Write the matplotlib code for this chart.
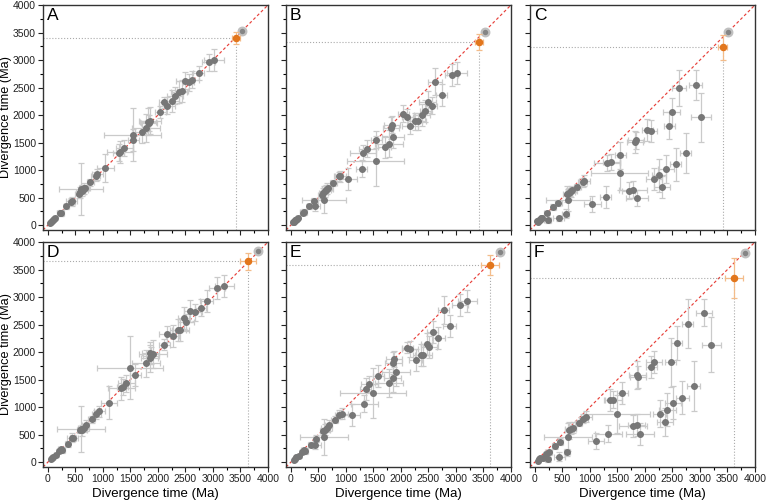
import matplotlib
matplotlib.use("Agg")
import matplotlib.pyplot as plt
from matplotlib.ticker import MultipleLocator

plt.rcParams['font.family'] = ['Liberation Sans', 'DejaVu Sans']

# Data -----------------------------------------------------------
x_top = [30, 50, 70, 95, 110, 120, 210, 230, 335, 425, 430, 560, 590, 600, 620, 640, 660, 680,
         770, 865, 900, 1045, 1290, 1310, 1390, 1540, 1550, 1705, 1785, 1820, 1840, 1855,
         2045, 2110, 2160, 2255, 2310, 2385, 2440, 2485, 2555, 2620, 2740, 2920, 3020]
xerr_top = [15, 20, 20, 20, 25, 25, 40, 60, 50, 60, 100, 60, 80, 400, 60, 80, 100, 60,
            60, 80, 100, 150, 100, 230, 150, 520, 100, 120, 250, 150, 150, 200,
            100, 100, 150, 120, 150, 150, 100, 150, 100, 120, 100, 120, 180]

yA = [36, 55, 73, 95, 115, 121, 210, 218, 339, 424, 430, 560, 594, 661, 620, 640, 665, 673,
      776, 885, 927, 1036, 1315, 1327, 1400, 1642, 1552, 1691, 1764, 1879, 1855, 1897,
      2055, 2230, 2170, 2261, 2351, 2412, 2442, 2624, 2594, 2642, 2764, 2958, 3006]
yerr_A = [15, 20, 20, 20, 25, 25, 40, 50, 50, 60, 80, 60, 100, 470, 100, 80, 100, 60,
          60, 80, 100, 250, 150, 200, 150, 480, 200, 200, 250, 250, 150, 250,
          100, 100, 150, 200, 150, 200, 200, 150, 150, 150, 120, 150, 200]

yB = [48, 60, 85, 100, 115, 127, 218, 236, 339, 430, 339, 550, 582, 461, 612, 640, 661, 670,
      764, 885, 890, 842, 1024, 1309, 1388, 1164, 1552, 1412, 1479, 1764, 1824, 1594,
      2024, 1958, 1806, 1885, 1885, 2006, 2067, 2230, 2170, 2606, 2370, 2733, 2764]
yerr_B = [15, 20, 20, 20, 25, 25, 40, 50, 50, 60, 80, 60, 100, 250, 100, 80, 100, 60,
          60, 80, 100, 200, 150, 150, 150, 450, 150, 200, 250, 200, 150, 200,
          150, 150, 150, 150, 150, 200, 200, 200, 150, 250, 200, 200, 200]

yC = [67, 60, 85, 100, 127, 130, 218, 85, 327, 400, 121, 206, 564, 448, 582, 600, 612, 640,
      691, 776, 806, 382, 503, 1127, 1145, 945, 1267, 624, 642, 1503, 1539, 491,
      1733, 1703, 836, 903, 691, 1018, 1806, 2055, 1109, 2485, 1309, 2552, 1958]
yerr_C = [15, 20, 20, 20, 25, 25, 40, 50, 50, 60, 50, 80, 150, 200, 100, 80, 100, 60,
          60, 80, 100, 150, 200, 150, 150, 300, 250, 150, 150, 200, 150, 150,
          200, 200, 200, 300, 200, 250, 250, 250, 300, 330, 370, 270, 450]

x_bot = [48, 79, 100, 139, 200, 230, 248, 356, 440, 453, 580, 600, 622, 653, 683, 792, 882, 937,
         1106, 1335, 1360, 1426, 1498, 1589, 1782, 1849, 1861, 1873, 1909, 2115, 2163,
         2266, 2362, 2405, 2465, 2508, 2574, 2677, 2779, 2888, 3075, 3208]
xerr_bot = [15, 20, 20, 25, 30, 40, 60, 50, 100, 60, 60, 440, 80, 100, 60, 60, 80, 100,
            150, 250, 100, 150, 600, 100, 250, 150, 150, 150, 250, 100, 150,
            120, 150, 150, 100, 150, 100, 120, 100, 120, 150, 180]

yD = [49, 73, 100, 122, 200, 230, 213, 328, 440, 438, 580, 600, 578, 620, 669, 778, 869, 924,
      1082, 1337, 1368, 1429, 1714, 1581, 1793, 1884, 1976, 1933, 1964, 2128, 2328,
      2298, 2401, 2401, 2614, 2541, 2754, 2723, 2809, 2930, 3167, 3204]
yerr_D = [15, 20, 20, 25, 30, 40, 50, 50, 80, 60, 60, 410, 100, 80, 100, 60, 80, 100,
          300, 200, 150, 150, 570, 200, 250, 250, 200, 150, 250, 100, 150,
          200, 200, 200, 200, 150, 200, 150, 150, 200, 200, 200]

yE = [30, 61, 85, 103, 180, 220, 201, 316, 316, 426, 560, 456, 590, 620, 669, 772, 860, 881,
      851, 1064, 1325, 1416, 1258, 1568, 1441, 1520, 1805, 1872, 1629, 2079, 2055,
      1854, 1945, 1945, 2140, 2097, 2371, 2261, 2766, 2480, 2857, 2936]
yerr_E = [15, 20, 20, 25, 30, 40, 50, 50, 80, 60, 60, 330, 100, 80, 100, 60, 80, 100,
          200, 150, 200, 150, 450, 200, 250, 250, 200, 150, 250, 100, 150,
          200, 200, 200, 200, 200, 200, 200, 250, 200, 200, 200]

yF = [24, 50, 70, 79, 150, 49, 176, 292, 97, 371, 176, 456, 578, 596, 620, 711, 790, 821,
      383, 517, 1125, 1137, 875, 1264, 651, 681, 1581, 1550, 517, 1733, 1824,
      881, 729, 954, 1812, 1076, 2164, 1167, 2517, 1386, 2717, 2128]
yerr_F = [15, 20, 20, 25, 30, 40, 50, 50, 80, 60, 60, 250, 150, 80, 100, 60, 80, 100,
          150, 150, 200, 150, 350, 200, 200, 200, 250, 200, 200, 200, 200,
          250, 250, 300, 450, 300, 300, 300, 450, 450, 250, 500]

# calibration point (orange) and root point per panel
orange_x = [3420, 3420, 3410, 3630, 3618, 3624]
orange_y = [3400, 3327, 3230, 3647, 3587, 3343]
orange_xerr = [75, 75, 75, 145, 170, 165]
orange_yerr = [110, 150, 230, 150, 180, 360]
root_x = [3525, 3527, 3515, 3825, 3806, 3818]
root_y = [3530, 3515, 3503, 3830, 3818, 3799]

labels = ['A', 'B', 'C', 'D', 'E', 'F']
panels = [(x_top, xerr_top, yA, yerr_A), (x_top, xerr_top, yB, yerr_B), (x_top, xerr_top, yC, yerr_C),
          (x_bot, xerr_bot, yD, yerr_D), (x_bot, xerr_bot, yE, yerr_E), (x_bot, xerr_bot, yF, yerr_F)]

# Figure ---------------------------------------------------------
fig = plt.figure(figsize=(7.67, 5.03), dpi=100)
W, H = 767.0, 503.0
lefts = [43, 286, 530]
tops = [5, 242]
w, h = 225, 225

lo, hi = -90, 4000
for k in range(6):
    r, c = k // 3, k % 3
    ax = fig.add_axes([lefts[c] / W, 1 - (tops[r] + h) / H, w / W, h / H])
    x, xe, y, ye = panels[k]

    ax.plot([lo, hi], [lo, hi], color='#e8403a', ls=(0, (2.5, 2)), lw=0.85, zorder=1)
    ax.errorbar(x, y, xerr=xe, yerr=ye, fmt='o', ms=4, color='#777777', mec='#777777',
                ecolor='#cacaca', elinewidth=0.9, capsize=2, capthick=0.9, zorder=3)

    # root node
    ax.errorbar([root_x[k]], [root_y[k]], xerr=30, yerr=30, fmt='o', ms=5.5, color='#858585',
                mec='#c0c0c0', mew=1.6, ecolor='#cccccc', elinewidth=0.9, capsize=2, zorder=4)

    # calibration node + guide lines
    ox, oy = orange_x[k], orange_y[k]
    ax.plot([lo, ox], [oy, oy], color='#aaaaaa', ls=':', lw=0.8, zorder=2)
    ax.plot([ox, ox], [lo, oy], color='#aaaaaa', ls=':', lw=0.8, zorder=2)
    ax.errorbar([ox], [oy], xerr=orange_xerr[k], yerr=orange_yerr[k], fmt='o', ms=4.4,
                color='#e2761c', mec='#e2761c', ecolor='#f3bc8a', elinewidth=0.9,
                capsize=2, capthick=0.9, zorder=5)

    ax.set_xlim(lo, hi)
    ax.set_ylim(lo, hi)
    ax.xaxis.set_major_locator(MultipleLocator(500))
    ax.yaxis.set_major_locator(MultipleLocator(500))
    ax.xaxis.set_minor_locator(MultipleLocator(250))
    ax.yaxis.set_minor_locator(MultipleLocator(250))
    ax.tick_params(which='major', direction='out', length=3.5, width=0.8, labelsize=7.5,
                   colors='#222222', pad=1.5, top=False, right=False)
    ax.tick_params(which='minor', direction='out', length=2, width=0.8, top=False, right=False)
    for s in ax.spines.values():
        s.set_color('#333333')
        s.set_linewidth(1.0)

    if r == 0:
        ax.set_xticklabels([])
    else:
        ax.set_xlabel('Divergence time (Ma)', fontsize=9.5)
        ax.xaxis.set_label_coords(0.5, -0.095)
    if c != 0:
        ax.set_yticklabels([])
    else:
        ax.set_ylabel('Divergence time (Ma)', fontsize=9.2)
        ax.yaxis.set_label_coords(-0.137, 0.5)

    ax.text(0.018, 0.985, labels[k], transform=ax.transAxes, fontsize=12.5, va='top', ha='left')

fig.savefig('out.png', dpi=100)
